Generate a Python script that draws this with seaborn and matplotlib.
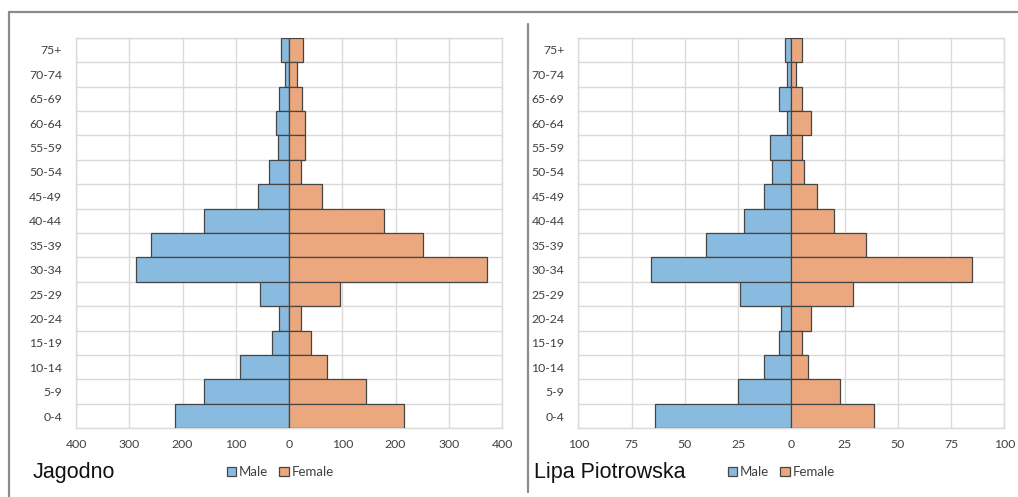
import matplotlib.pyplot as plt
import seaborn as sns
import pandas as pd
from matplotlib.lines import Line2D
from matplotlib.ticker import FuncFormatter, MultipleLocator

sns.set_theme(style="white")
plt.rcParams['font.family'] = ['Lato', 'DejaVu Sans']

age_groups = ['75+', '70-74', '65-69', '60-64', '55-59', '50-54', '45-49', '40-44',
              '35-39', '30-34', '25-29', '20-24', '15-19', '10-14', '5-9', '0-4']

jagodno_male = [16, 8, 18, 24, 20, 38, 59, 159, 260, 288, 54, 18, 32, 93, 159, 214]
jagodno_female = [27, 14, 24, 30, 30, 22, 62, 178, 252, 371, 95, 22, 41, 71, 144, 215]

lipa_male = [3, 2, 6, 2, 10, 9, 13, 22, 40, 66, 24, 5, 6, 13, 25, 64]
lipa_female = [5, 2, 5, 9, 5, 6, 12, 20, 35, 85, 29, 9, 5, 8, 23, 39]

palette = {'Male': '#89BADF', 'Female': '#EBA87F'}


def make_df(male, female):
    return pd.DataFrame({
        'Age': age_groups * 2,
        'Sex': ['Male'] * len(male) + ['Female'] * len(female),
        'Count': [-m for m in male] + list(female),
    })


def pyramid(ax, male, female, limit, step, title, leg_x):
    df = make_df(male, female)
    sns.barplot(data=df, y='Age', x='Count', hue='Sex', order=age_groups,
                hue_order=['Male', 'Female'], palette=palette, dodge=False,
                saturation=1, width=1.0, edgecolor='#454545', linewidth=0.9,
                ax=ax, zorder=3)
    ax.set_xlim(-limit, limit)
    ax.set_ylim(len(age_groups) - 0.5, -0.5)
    ax.xaxis.set_major_locator(MultipleLocator(step))
    ax.xaxis.set_major_formatter(FuncFormatter(lambda v, p: f'{abs(int(round(v)))}'))
    ax.set_yticks(range(len(age_groups)))
    ax.set_yticks([i + 0.5 for i in range(-1, len(age_groups))], minor=True)
    ax.grid(True, axis='x', which='major', color='#DADADA', linewidth=1.0, zorder=0)
    ax.grid(True, axis='y', which='minor', color='#DADADA', linewidth=1.0, zorder=0)
    ax.grid(False, axis='y', which='major')
    ax.set_axisbelow(True)
    for s in ax.spines.values():
        s.set_color('#DADADA')
        s.set_linewidth(1.0)
    ax.tick_params(axis='both', which='both', length=0, labelsize=8.8, colors='#404040')
    ax.tick_params(axis='y', pad=10)
    ax.tick_params(axis='x', pad=8)
    ax.set_xlabel('')
    ax.set_ylabel('')
    sns.move_legend(ax, 'center', bbox_to_anchor=(leg_x, -0.112), ncol=2,
                    frameon=False, title=None, fontsize=9.5, handlelength=0.75,
                    handleheight=0.75, handletextpad=0.2, columnspacing=0.8)
    for t in ax.get_legend().get_texts():
        t.set_color('#404040')
    ax.text(-0.101, -0.112, title, transform=ax.transAxes, ha='left', va='center',
            fontsize=15.5, family=['Liberation Sans', 'DejaVu Sans'], color='#111111')


fig = plt.figure(figsize=(10.18, 4.97), dpi=100)
ax1 = fig.add_axes([0.0747, 0.1382, 0.4185, 0.786])
ax2 = fig.add_axes([0.5681, 0.1382, 0.4185, 0.786])

pyramid(ax1, jagodno_male, jagodno_female, 400, 100, 'Jagodno', 0.479)
pyramid(ax2, lipa_male, lipa_female, 100, 25, 'Lipa Piotrowska', 0.476)
ax2.texts[-1].set_x(-0.104)

# outer frame and divider
frame_col = '#8C8C8C'
fig.add_artist(Line2D([9 / 1018, 1.0], [1 - 12 / 497, 1 - 12 / 497], color=frame_col, linewidth=1.6))
fig.add_artist(Line2D([9 / 1018, 9 / 1018], [0.0, 1 - 12 / 497], color=frame_col, linewidth=1.6))
fig.add_artist(Line2D([527.7 / 1018, 527.7 / 1018], [1 - 492 / 497, 1 - 24 / 497], color=frame_col, linewidth=1.6))

fig.savefig('out.png', dpi=100)
plt.close(fig)
